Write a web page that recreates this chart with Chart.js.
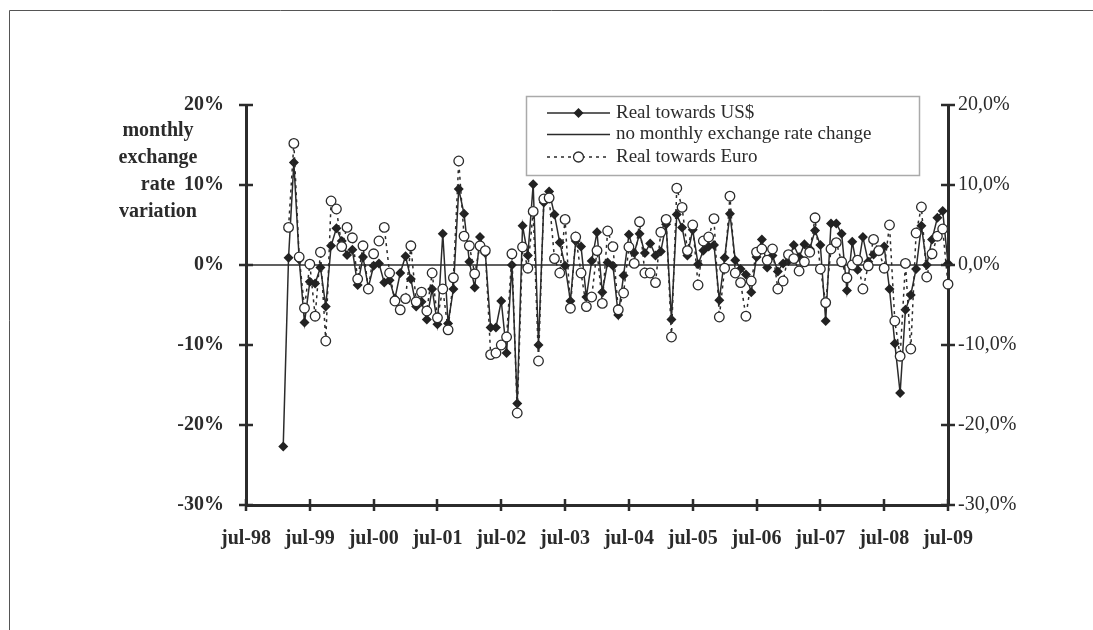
<!DOCTYPE html>
<html>
<head>
<meta charset="utf-8">
<script src="https://cdn.jsdelivr.net/npm/chart.js@4.4.1/dist/chart.umd.min.js"></script>
<style>
  html, body { margin: 0; padding: 0; background: #fff; }
  #wrap { position: relative; width: 1093px; height: 630px; }
</style>
</head>
<body>
<div id="wrap"><canvas id="fxChart" width="1093" height="630"></canvas></div>
<script>
// Monthly real exchange rate variation, Feb-99 .. Jul-09

const TICK_LABELS = ['jul-98','jul-99','jul-00','jul-01','jul-02','jul-03','jul-04','jul-05','jul-06','jul-07','jul-08','jul-09'];
const FIRST_MONTH = 7; // first observation, in months after jul-98

const US_VALUES = [
  -22.7, 0.9, 12.8, 0.7, -7.2, -2.1, -2.3, -0.3, -5.2, 2.4,
  4.6, 3.0, 1.25, 1.9, -2.5, 1.0, -2.8, -0.1, 0.2, -2.2,
  -1.9, -4.2, -1.0, 1.1, -1.75, -5.2, -4.6, -6.8, -3.0, -7.4,
  3.9, -7.3, -3.0, 9.5, 6.4, 0.4, -2.8, 3.5, 1.5, -7.8,
  -7.8, -4.5, -11.0, 0.0, -17.3, 4.9, 1.2, 10.1, -10.0, 7.8,
  9.2, 6.3, 2.8, -0.1, -4.5, 3.0, 2.3, -4.0, 0.5, 4.1,
  -3.4, 0.3, -0.1, -6.25, -1.3, 3.8, 1.5, 3.9, 1.5, 2.7,
  1.2, 1.7, 5.1, -6.8, 6.3, 4.7, 1.2, 4.4, 0.1, 1.8,
  2.3, 2.5, -4.4, 0.9, 6.4, 0.6, -0.5, -1.2, -3.4, 1.0,
  3.2, -0.3, 1.2, -0.8, 0.2, 0.5, 2.5, 1.0, 2.6, 2.0,
  4.3, 2.5, -7.0, 5.2, 5.2, 3.9, -3.2, 2.9, -0.6, 3.5,
  0.4, 1.3, 1.7, 2.3, -3.0, -9.8, -16.0, -5.6, -3.75, -0.5,
  4.9, 0.0, 3.2, 5.9, 6.75, 0.2
];

const EURO_VALUES = [
  null, 4.7, 15.2, 1.0, -5.4, 0.1, -6.4, 1.6, -9.5, 8.0,
  7.0, 2.3, 4.7, 3.4, -1.75, 2.4, -3.0, 1.4, 3.0, 4.7,
  -1.0, -4.5, -5.6, -4.2, 2.4, -4.6, -3.4, -5.75, -1.0, -6.6,
  -3.0, -8.1, -1.6, 13.0, 3.6, 2.4, -1.1, 2.4, 1.8, -11.2,
  -11.0, -10.0, -9.0, 1.4, -18.5, 2.25, -0.4, 6.7, -12.0, 8.25,
  8.4, 0.8, -1.0, 5.7, -5.4, 3.5, -1.0, -5.2, -4.0, 1.8,
  -4.8, 4.25, 2.3, -5.6, -3.5, 2.25, 0.2, 5.4, -1.0, -1.0,
  -2.2, 4.1, 5.7, -9.0, 9.6, 7.2, 1.8, 5.0, -2.5, 3.0,
  3.5, 5.8, -6.5, -0.4, 8.6, -1.0, -2.2, -6.4, -2.0, 1.6,
  2.0, 0.6, 2.0, -3.0, -2.0, 1.3, 0.8, -0.75, 0.4, 1.6,
  5.9, -0.5, -4.7, 2.0, 2.8, 0.4, -1.6, 0.0, 0.6, -3.0,
  -0.1, 3.2, 1.8, -0.4, 5.0, -7.0, -11.4, 0.2, -10.5, 4.0,
  7.25, -1.5, 1.4, 3.6, 4.5, -2.4
];

const SERIES_NAMES = ['Real towards US$', 'no monthly exchange rate change', 'Real towards Euro'];
const Y_TITLE = ['monthly', 'exchange', 'rate', 'variation'];

const INK = '#2b2b2b';
const FONT = "'Liberation Serif','Times New Roman',serif";

Chart.defaults.font.family = FONT;
Chart.defaults.font.size = 20;
Chart.defaults.color = INK;

const toPoints = vals => vals.map((v, i) => ({ x: FIRST_MONTH + i, y: v }));
const lastMonth = (TICK_LABELS.length - 1) * 12;

// ── cross-shaped tick marks on all three axes ─────────────
const crossTicks = {
  id: 'crossTicks',
  afterDraw(chart) {
    const { ctx, chartArea: a, scales } = chart;
    ctx.save();
    ctx.strokeStyle = INK;
    ctx.lineWidth = 2.5;
    ctx.beginPath();
    scales.x.ticks.forEach(t => {
      const px = Math.round(scales.x.getPixelForValue(t.value));
      ctx.moveTo(px, a.bottom - 6); ctx.lineTo(px, a.bottom + 6);
    });
    [['y', a.left], ['y2', a.right]].forEach(([id, ax]) => {
      scales[id].ticks.forEach(t => {
        const py = Math.round(scales[id].getPixelForValue(t.value));
        ctx.moveTo(ax - 7, py); ctx.lineTo(ax + 7, py);
      });
    });
    ctx.stroke();
    ctx.restore();
  }
};

// ── frame, y title and boxed legend ───────────────────────
const decor = {
  id: 'decor',
  beforeDraw(chart) {
    const { ctx } = chart;
    ctx.save();
    ctx.fillStyle = '#fff';
    ctx.fillRect(0, 0, chart.width, chart.height);
    ctx.strokeStyle = '#555';
    ctx.lineWidth = 1;
    ctx.beginPath();
    ctx.moveTo(9.5, chart.height); ctx.lineTo(9.5, 10.5); ctx.lineTo(chart.width, 10.5);
    ctx.stroke();
    ctx.restore();
  },
  afterDraw(chart) {
    const { ctx } = chart;
    ctx.save();
    // y title
    ctx.fillStyle = INK;
    ctx.font = 'bold 20px ' + FONT;
    ctx.textAlign = 'center';
    ctx.textBaseline = 'middle';
    Y_TITLE.forEach((s, k) => ctx.fillText(s, 158, 131 + k * 27));

    // legend
    const bx = 526.5, by = 96.5, bw = 393, bh = 79;
    ctx.fillStyle = '#fff';
    ctx.fillRect(bx, by, bw, bh);
    ctx.strokeStyle = '#aaa';
    ctx.lineWidth = 1.5;
    ctx.strokeRect(bx, by, bw, bh);

    const rows = [113, 134.5, 157];
    const x0 = 547, x1 = 610, xm = 578.5;
    ctx.strokeStyle = INK;
    ctx.lineWidth = 1.5;
    // row 1: solid + diamond
    ctx.beginPath(); ctx.moveTo(x0, rows[0]); ctx.lineTo(x1, rows[0]); ctx.stroke();
    ctx.fillStyle = '#222';
    ctx.beginPath();
    ctx.moveTo(xm, rows[0] - 5); ctx.lineTo(xm + 5, rows[0]); ctx.lineTo(xm, rows[0] + 5); ctx.lineTo(xm - 5, rows[0]);
    ctx.closePath(); ctx.fill();
    // row 2: solid
    ctx.beginPath(); ctx.moveTo(x0, rows[1]); ctx.lineTo(x1, rows[1]); ctx.stroke();
    // row 3: dashed + circle
    ctx.setLineDash([3, 4]);
    ctx.beginPath(); ctx.moveTo(x0, rows[2]); ctx.lineTo(x1, rows[2]); ctx.stroke();
    ctx.setLineDash([]);
    ctx.fillStyle = '#fff';
    ctx.lineWidth = 1.3;
    ctx.beginPath(); ctx.arc(xm, rows[2], 5, 0, Math.PI * 2); ctx.fill(); ctx.stroke();

    ctx.fillStyle = INK;
    ctx.font = '19px ' + FONT;
    ctx.textAlign = 'left';
    SERIES_NAMES.forEach((s, k) => ctx.fillText(s, 616, rows[k]));
    ctx.restore();
  }
};

new Chart(document.getElementById('fxChart'), {
  type: 'line',
  data: {
    datasets: [
      {
        label: SERIES_NAMES[2],
        data: toPoints(EURO_VALUES),
        borderColor: INK, borderWidth: 1.5, borderDash: [3, 4],
        pointStyle: 'circle', pointRadius: 4.8, pointBorderWidth: 1.3,
        pointBackgroundColor: '#fff', pointBorderColor: INK,
        tension: 0, spanGaps: false, clip: false, order: 0,
      },
      {
        label: SERIES_NAMES[0],
        data: toPoints(US_VALUES),
        borderColor: INK, borderWidth: 1.5,
        pointStyle: 'rectRot', pointRadius: 5, pointBorderWidth: 0,
        pointBackgroundColor: '#222', pointBorderColor: '#222',
        tension: 0, clip: false, order: 1,
      },
      {
        label: SERIES_NAMES[1],
        data: [{ x: 0, y: 0 }, { x: lastMonth, y: 0 }],
        borderColor: INK, borderWidth: 1.5, pointRadius: 0,
        clip: false, order: 2,
      },
    ],
  },
  options: {
    responsive: false,
    animation: false,
    events: [],
    layout: { padding: { top: 105, left: 0, right: 0, bottom: 0 }, autoPadding: false },
    plugins: { legend: { display: false }, tooltip: { enabled: false } },
    scales: {
      x: {
        type: 'linear', position: 'bottom', min: 0, max: lastMonth,
        afterBuildTicks: s => { s.ticks = TICK_LABELS.map((_, k) => ({ value: k * 12 })); },
        afterFit: s => { s.height = 125; },
        ticks: {
          callback: v => TICK_LABELS[Math.round(v / 12)],
          font: { weight: 'bold', size: 20 }, padding: 22, maxRotation: 0, autoSkip: false,
        },
        grid: { display: false, drawTicks: false },
        border: { display: true, width: 3, color: INK },
      },
      y: {
        position: 'left', min: -30, max: 20,
        afterFit: s => { s.width = 246; },
        ticks: { stepSize: 10, callback: v => v + '%', font: { weight: 'bold', size: 20 }, padding: 22 },
        grid: { display: false, drawTicks: false },
        border: { display: true, width: 3, color: INK },
      },
      y2: {
        position: 'right', min: -30, max: 20,
        afterFit: s => { s.width = 1093 - 948; },
        ticks: { stepSize: 10, callback: v => v.toFixed(1).replace('.', ',') + '%', font: { size: 20 }, padding: 10 },
        grid: { display: false, drawTicks: false },
        border: { display: true, width: 3, color: INK },
      },
    },
  },
  plugins: [decor, crossTicks],
});
</script>
</body>
</html>
